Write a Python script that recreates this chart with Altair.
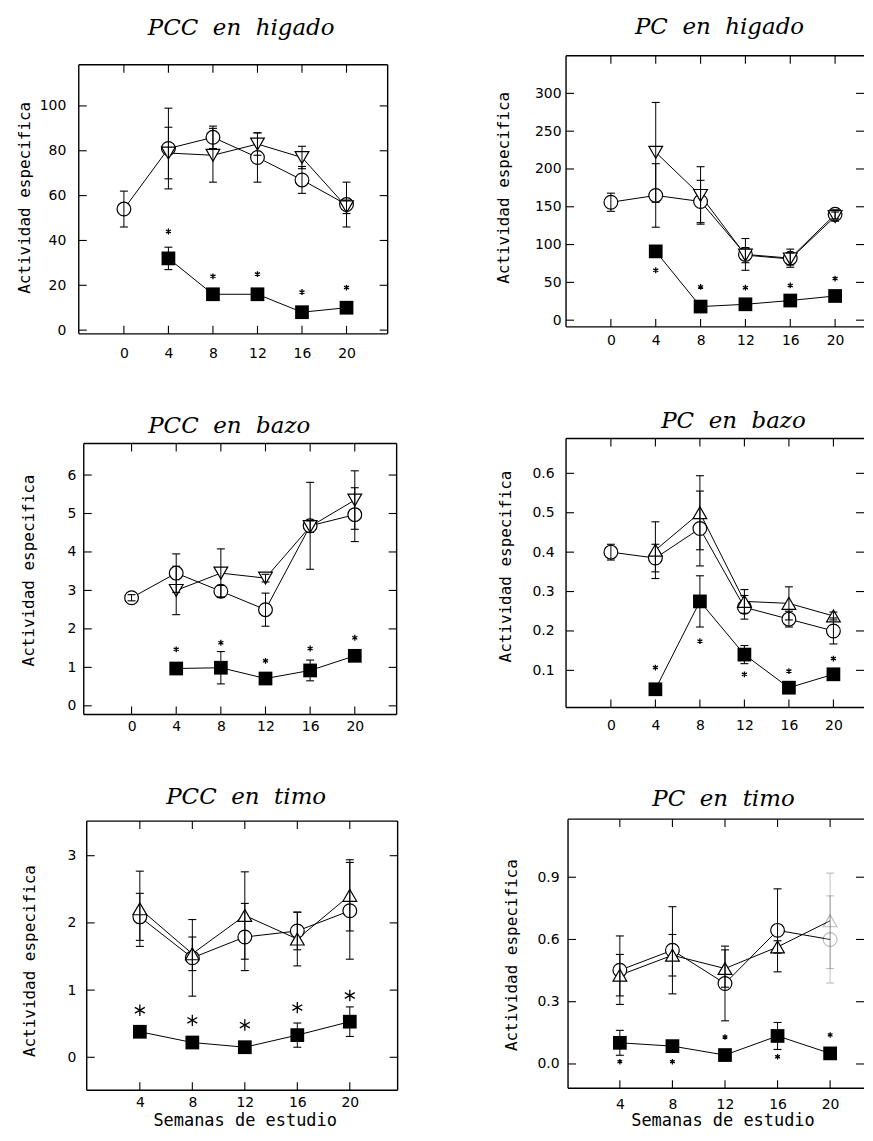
import altair as alt
import pandas as pd

# ---------------- data ----------------
weeks0 = [0, 4, 8, 12, 16, 20]
weeks = [4, 8, 12, 16, 20]

# PCC en higado
p1_circ_y = [54, 81, 86, 77, 67, 56]
p1_circ_e = [8, 18, 5, 11, 6, 10]
p1_tri_y = [79, 78, 83, 77, 55]
p1_tri_e = [11.5, 12, 5, 5, 3]
p1_sq_y = [32, 16, 16, 8, 10]
p1_sq_e = [5, 1, 1, 1, 1]
p1_ast_y = [44, 24, 25, 17, 19]
p1_yticks = [0, 20, 40, 60, 80, 100]

# PC en higado
p2_circ_y = [156, 165, 157, 87, 82, 140]
p2_circ_e = [12, 42, 28, 21, 12, 6]
p2_tri_y = [222, 165, 86, 81, 137]
p2_tri_e = [66, 38, 10, 8, 6]
p2_sq_y = [91, 18, 21, 26, 32]
p2_sq_e = [3, 3, 3, 3, 3]
p2_ast_y = [66, 44, 43, 46, 55]
p2_yticks = [0, 50, 100, 150, 200, 250, 300]

# PCC en bazo
p3_circ_y = [2.81, 3.45, 2.98, 2.5, 4.68, 4.97]
p3_circ_e = [0.08, 0.5, 0.15, 0.43, 1.13, 0.7]
p3_tri_y = [3.0, 3.45, 3.32, 4.66, 5.35]
p3_tri_e = [0.63, 0.63, 0.1, 0.15, 0.76]
p3_sq_y = [0.97, 0.99, 0.71, 0.92, 1.3]
p3_sq_e = [0.05, 0.42, 0.08, 0.27, 0.08]
p3_ast_y = [1.47, 1.64, 1.17, 1.49, 1.77]
p3_yticks = [0, 1, 2, 3, 4, 5, 6]

# PC en bazo
p4_circ_y = [0.40, 0.385, 0.46, 0.26, 0.23, 0.20]
p4_circ_e = [0.02, 0.035, 0.095, 0.03, 0.02, 0.033]
p4_tri_y = [0.405, 0.50, 0.275, 0.27, 0.238]
p4_tri_e = [0.072, 0.094, 0.03, 0.042, 0.01]
p4_sq_y = [0.052, 0.275, 0.14, 0.056, 0.09]
p4_sq_e = [0.005, 0.065, 0.023, 0.005, 0.008]
p4_ast_y = [0.107, 0.174, 0.09, 0.098, 0.13]
p4_yticks = [0.1, 0.2, 0.3, 0.4, 0.5, 0.6]

# PCC en timo
p5_circ_y = [2.09, 1.48, 1.79, 1.88, 2.18]
p5_circ_e = [0.35, 0.57, 0.5, 0.28, 0.72]
p5_tri_y = [2.21, 1.54, 2.11, 1.76, 2.41]
p5_tri_e = [0.56, 0.25, 0.65, 0.4, 0.53]
p5_sq_y = [0.38, 0.22, 0.15, 0.33, 0.53]
p5_sq_e = [0.03, 0.03, 0.03, 0.18, 0.22]
p5_ast_y = [0.70, 0.55, 0.48, 0.74, 0.92]
p5_yticks = [0, 1, 2, 3]

# PC en timo
p6_circ_y = [0.452, 0.548, 0.388, 0.644, 0.60]
p6_circ_e = [0.165, 0.21, 0.18, 0.2, 0.21]
p6_tri_y = [0.428, 0.524, 0.46, 0.564, 0.69]
p6_tri_e = [0.1, 0.1, 0.09, 0.03, 0.23]
p6_sq_y = [0.102, 0.086, 0.043, 0.135, 0.051]
p6_sq_e = [0.06, 0.01, 0.01, 0.065, 0.01]
p6_ast_y = [0.011, 0.011, 0.13, 0.035, 0.14]
p6_open_alpha = [1, 1, 1, 1, 0.25]
p6_yticks = [0.0, 0.3, 0.6, 0.9]

Y_TITLE = "Actividad especifica"
X_TITLE = "Semanas de estudio"
NB = "\u00a0"

# ---------------- helpers ----------------
TICK = 8
SIZE = 190
AST_PATH = "M0,-1L0,1M-0.87,-0.5L0.87,0.5M-0.87,0.5L0.87,-0.5"


def sdf(xs, ys, es, alpha=None):
    return pd.DataFrame({
        "x": xs, "y": ys,
        "lo": [y - e for y, e in zip(ys, es)],
        "hi": [y + e for y, e in zip(ys, es)],
        "op": alpha if alpha is not None else [1.0] * len(xs),
    })


def domains(L):
    v1, p1, v2, p2 = L["xmap"]
    kx = (p2 - p1) / (v2 - v1)
    xd = [v1 + (L["vx"] - p1) / kx, v1 + (L["vx"] + L["vw"] - p1) / kx]
    v1, p1, v2, p2 = L["ymap"]
    ky = (p1 - p2) / (v2 - v1)
    yd = [v1 - (L["vy"] + L["vh"] - p1) / ky, v1 + (p1 - L["vy"]) / ky]
    return xd, yd


def panel(title, cx, cy, ce, tx, ty, te, tri_shape, sy, se, ay, yticks, xticks, L,
          alpha_c=None, alpha_t=None):
    xd, yd = domains(L)
    xs = alt.Scale(domain=xd, nice=False, zero=False)
    ys = alt.Scale(domain=yd, nice=False, zero=False)
    xkw = dict(values=xticks, format="d", labelPadding=L["xlp"], labelFlush=False)
    if L.get("xtitle"):
        xkw.update(title=X_TITLE, titleX=L["xtx"], titleY=L["xty"], titleFontSize=17)
    else:
        xkw["title"] = None
    xax = alt.Axis(**xkw)
    yax = alt.Axis(values=yticks, format=L["yfmt"], labelPadding=L["ylp"], labelFlush=False,
                   title=Y_TITLE, titleX=L["ytx"], titleY=L["yty"])

    def X(f):
        return alt.X(f, type="quantitative", scale=xs, axis=xax)

    def Y(f):
        return alt.Y(f, type="quantitative", scale=ys, axis=yax)

    vx, vy = L["vx"], L["vy"]
    fx0, fy0, fx1, fy1 = [a - b for a, b in zip(L["frame"], (vx, vy, vx, vy))]
    dc = sdf(cx, cy, ce, alpha_c)
    dt = sdf(tx, ty, te, alpha_t)
    ds = sdf(weeks, sy, se)
    da = pd.DataFrame({"x": weeks, "y": ay})
    dyt = pd.DataFrame({"v": yticks})
    dxt = pd.DataFrame({"v": xticks})
    one = pd.DataFrame({"k": [0]})

    layers = []
    # layout anchors (invisible)
    sp = alt.Chart(one).mark_point(opacity=0, size=1, strokeWidth=0)
    c = L["cell"]
    layers.append(sp.encode(x=alt.value(c[0] - vx), y=alt.value(c[1] - vy)))
    layers.append(sp.encode(x=alt.value(c[2] - vx), y=alt.value(c[3] - vy)))
    # panel title
    layers.append(alt.Chart(one).mark_text(
        text=title.replace(" ", NB + NB), font="DejaVu Serif", fontStyle="italic", fontSize=23,
        color="black", align="center", baseline="alphabetic",
    ).encode(x=alt.value(L["tx"] - vx), y=alt.value(L["ty"] - vy)))
    # frame
    fr = dict(color="black", strokeWidth=1.4)
    fb = alt.Chart(one)
    layers.append(fb.mark_rule(**fr).encode(x=alt.value(fx0), x2=alt.value(fx1), y=alt.value(fy0)))
    layers.append(fb.mark_rule(**fr).encode(x=alt.value(fx0), x2=alt.value(fx1), y=alt.value(fy1)))
    layers.append(fb.mark_rule(**fr).encode(x=alt.value(fx0), y=alt.value(fy0), y2=alt.value(fy1)))
    if L.get("rborder", True):
        layers.append(fb.mark_rule(**fr).encode(x=alt.value(fx1), y=alt.value(fy0), y2=alt.value(fy1)))
    # inward frame ticks
    rule = dict(color="black", strokeWidth=1.1)
    layers.append(alt.Chart(dyt).mark_rule(**rule).encode(y=Y("v"), x=alt.value(fx0), x2=alt.value(fx0 + TICK)))
    layers.append(alt.Chart(dyt).mark_rule(**rule).encode(y=Y("v"), x=alt.value(fx1 - TICK), x2=alt.value(fx1)))
    layers.append(alt.Chart(dxt).mark_rule(**rule).encode(x=X("v"), y=alt.value(fy0), y2=alt.value(fy0 + TICK)))
    layers.append(alt.Chart(dxt).mark_rule(**rule).encode(x=X("v"), y=alt.value(fy1 - TICK), y2=alt.value(fy1)))
    # connecting lines
    for d in (dc, dt, ds):
        layers.append(alt.Chart(d).mark_line(color="black", strokeWidth=1).encode(x=X("x"), y=Y("y")))
    # markers
    op = alt.Opacity("op:Q", scale=None, legend=None)
    layers.append(alt.Chart(dc).mark_point(shape="circle", filled=True, fill="white", stroke="black",
                                            strokeWidth=1.2, size=SIZE).encode(x=X("x"), y=Y("y"), opacity=op))
    layers.append(alt.Chart(dt).mark_point(shape=tri_shape, filled=True, fill="white", stroke="black",
                                            strokeWidth=1.2, size=SIZE).encode(x=X("x"), y=Y("y"), opacity=op))
    layers.append(alt.Chart(ds).mark_point(shape="square", filled=True, color="black", opacity=1,
                                            size=SIZE).encode(x=X("x"), y=Y("y")))
    # error bars
    for d in (dc, dt, ds):
        layers.append(alt.Chart(d).mark_rule(color="black", strokeWidth=1).encode(
            x=X("x"), y=Y("lo"), y2=alt.Y2("hi"), opacity=op))
        for f in ("lo", "hi"):
            layers.append(alt.Chart(d).mark_rule(color="black", strokeWidth=1.1, xOffset=-4, x2Offset=4).encode(
                x=X("x"), x2=alt.X2("x"), y=Y(f), opacity=op))
    # significance asterisks
    layers.append(alt.Chart(da).mark_point(shape=AST_PATH, filled=False, stroke="black", opacity=1,
                                           strokeWidth=1.3, size=L["ast"]).encode(x=X("x"), y=Y("y")))

    return alt.layer(*layers).properties(width=L["vw"], height=L["vh"])


L1 = dict(vx=78, vy=53, vw=310, vh=279, frame=(78, 62, 388, 332), cell=(8, 8, 400, 372),
          xmap=(0, 123.3, 20, 346.7), ymap=(0, 328.3, 100, 103.3), xlp=13, ylp=13,
          ytx=-46, yty=142, tx=241, ty=31.7, yfmt="d", ast=34)
L2 = dict(vx=565, vy=53, vw=299, vh=272, frame=(565, 53, 864, 325), cell=(400, 8, 864, 372),
          xmap=(0, 610, 20, 835), ymap=(0, 318.3, 300, 90.7), xlp=7, ylp=5,
          ytx=-55, yty=132, tx=719, ty=30.7, yfmt="d", ast=34, rborder=False)
L3 = dict(vx=78, vy=435, vw=319, vh=277, frame=(83, 440, 397, 712), cell=(8, 372, 400, 752),
          xmap=(0, 131, 20, 355), ymap=(0, 703.3, 6, 471.7), xlp=5, ylp=3,
          ytx=-42, yty=132, tx=229, ty=429.3, yfmt="d", ast=34)
L4 = dict(vx=565, vy=435, vw=299, vh=270, frame=(565, 435, 864, 705), cell=(400, 372, 864, 752),
          xmap=(0, 610, 20, 833.3), ymap=(0.1, 667.7, 0.6, 470), xlp=11, ylp=12,
          ytx=-53, yty=128, tx=733, ty=424, yfmt=".1f", ast=34, rborder=False)
L5 = dict(vx=78, vy=815, vw=320, vh=272, frame=(86, 817, 398, 1087), cell=(8, 752, 400, 1127),
          xmap=(4, 139.3, 20, 350), ymap=(0, 1054, 3, 851.7), xlp=5, ylp=3,
          ytx=-41, yty=142, tx=246, ty=800, yfmt="d", ast=130,
          xtitle=True, xtx=166.5, xty=22)
L6 = dict(vx=567, vy=815, vw=297, vh=270, frame=(567, 815, 864, 1085), cell=(400, 752, 864, 1127),
          xmap=(4, 619, 20, 830), ymap=(0, 1060.7, 0.9, 873.3), xlp=9, ylp=9,
          ytx=-49, yty=136, tx=723, ty=801.7, yfmt=".1f", ast=30, rborder=False,
          xtitle=True, xtx=155, xty=24)

c1 = panel("PCC en higado", weeks0, p1_circ_y, p1_circ_e, weeks, p1_tri_y, p1_tri_e, "triangle-down",
           p1_sq_y, p1_sq_e, p1_ast_y, p1_yticks, weeks0, L1)
c2 = panel("PC en higado", weeks0, p2_circ_y, p2_circ_e, weeks, p2_tri_y, p2_tri_e, "triangle-down",
           p2_sq_y, p2_sq_e, p2_ast_y, p2_yticks, weeks0, L2)
c3 = panel("PCC en bazo", weeks0, p3_circ_y, p3_circ_e, weeks, p3_tri_y, p3_tri_e, "triangle-down",
           p3_sq_y, p3_sq_e, p3_ast_y, p3_yticks, weeks0, L3)
c4 = panel("PC en bazo", weeks0, p4_circ_y, p4_circ_e, weeks, p4_tri_y, p4_tri_e, "triangle-up",
           p4_sq_y, p4_sq_e, p4_ast_y, p4_yticks, weeks0, L4)
c5 = panel("PCC en timo", weeks, p5_circ_y, p5_circ_e, weeks, p5_tri_y, p5_tri_e, "triangle-up",
           p5_sq_y, p5_sq_e, p5_ast_y, p5_yticks, weeks, L5)
c6 = panel("PC en timo", weeks, p6_circ_y, p6_circ_e, weeks, p6_tri_y, p6_tri_e, "triangle-up",
           p6_sq_y, p6_sq_e, p6_ast_y, p6_yticks, weeks, L6,
           alpha_c=p6_open_alpha, alpha_t=p6_open_alpha)

chart = alt.vconcat(
    alt.hconcat(c1, c2, spacing=0),
    alt.hconcat(c3, c4, spacing=0),
    alt.hconcat(c5, c6, spacing=0),
    spacing=0,
).properties(padding=0, background="white").configure_view(
    stroke=None
).configure_axis(
    grid=False, domain=False, ticks=False,
    labelFont="DejaVu Sans", labelFontSize=14, labelColor="black",
    titleFont="DejaVu Sans Mono", titleFontSize=16, titleFontWeight="normal", titleColor="black",
)

chart.save("out.html", embed_options={"renderer": "svg", "actions": False})
